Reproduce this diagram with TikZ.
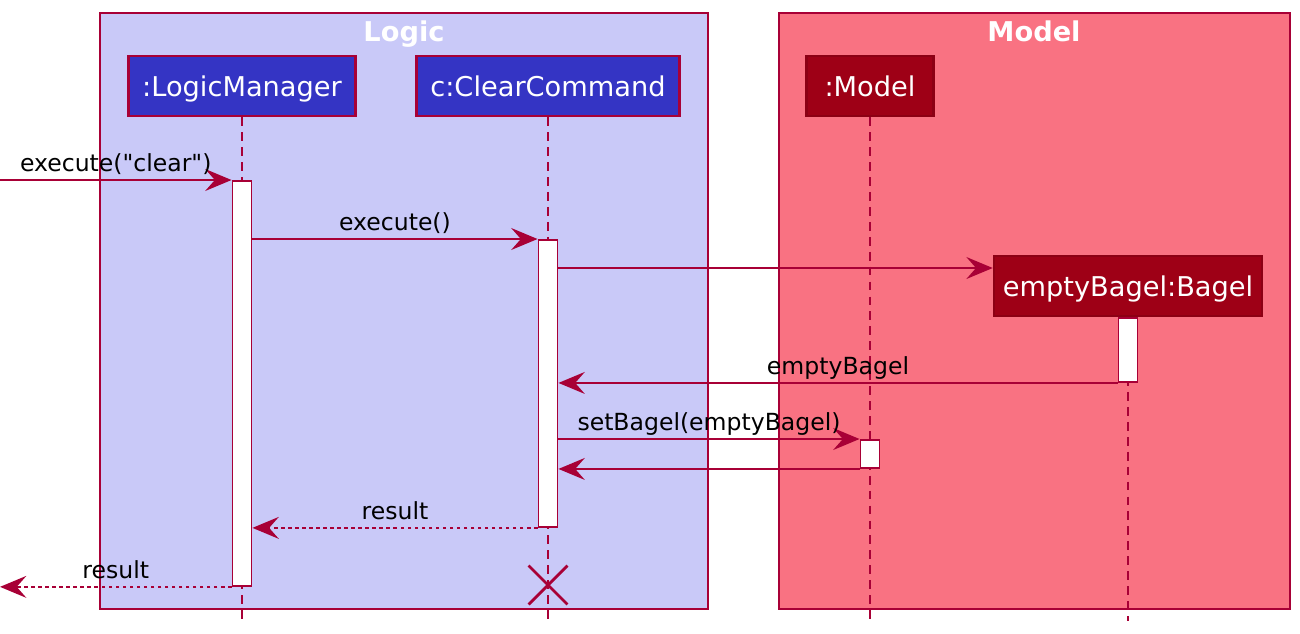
\documentclass[tikz,border=0pt]{standalone}
\usepackage{fontspec}
\newfontfamily\umlfont{DejaVu Sans}
\usepackage{tikz}
\usetikzlibrary{arrows.meta,shapes.misc}
\definecolor{umlline}{RGB}{168,0,54}
\definecolor{logicbg}{RGB}{201,201,248}
\definecolor{modelbg}{RGB}{249,114,130}
\definecolor{logicpart}{RGB}{52,52,196}
\definecolor{modelpart}{RGB}{158,0,22}
\definecolor{modeledge}{RGB}{140,0,20}

\begin{document}
\begin{tikzpicture}[x=0.02cm,y=-0.02cm]
  \tikzstyle{box}=[draw=umlline,line width=1.1pt]
  \tikzstyle{boxtitle}=[anchor=base,text=white,font=\umlfont\fontsize{15.5}{19}\selectfont\bfseries]
  \tikzstyle{participant}=[draw=umlline,line width=1.5pt,fill=logicpart,text=white,inner sep=0pt,
                           text height=14pt,text depth=1.6pt,
                           minimum height=1.2cm,font=\umlfont\fontsize{15.5}{18}\selectfont]
  \tikzstyle{modelparticipant}=[participant,draw=modeledge,fill=modelpart]
  \tikzstyle{life}=[draw=umlline,line width=0.9pt,dash pattern=on 5pt off 3.5pt]
  \tikzstyle{act}=[draw=umlline,line width=1.1pt,fill=white,minimum width=0.38cm,
                   anchor=north,inner sep=0pt]
  \tikzstyle{msg}=[draw=umlline,line width=0.9pt,-{Stealth[length=15pt,width=12.5pt,inset=5.5pt]}]
  \tikzstyle{ret}=[msg,dash pattern=on 2pt off 2pt]
  \tikzstyle{lbl}=[anchor=base,yshift=5pt,inner sep=0pt,font=\umlfont\fontsize{13.4}{16}\selectfont]
  \tikzstyle{destroy}=[draw=umlline,line width=1.6pt,cross out,minimum size=0.72cm,inner sep=0pt]
  \useasboundingbox (0,0) rectangle (1300,633);
  \draw[box,fill=logicbg] (100,13) rectangle (708,609);
  \draw[box,fill=modelbg] (779,13) rectangle (1290,609);
  \node[boxtitle] (logicTitle) at (404,41) {Logic};
  \node[boxtitle] (modelTitle) at (1034,41) {Model};
  \node[participant,minimum width=4.54cm] (lm) at (242,86) {:LogicManager};
  \node[participant,minimum width=5.26cm] (cc) at (548,86) {c:ClearCommand};
  \node[modelparticipant,minimum width=2.54cm] (mdl) at (870,86) {:Model};
  \draw[life] (lm.south) -- (242,621);
  \draw[life] (cc.south) -- (548,621);
  \draw[life] (mdl.south) -- (870,621);
  \node[modelparticipant,minimum width=5.36cm] (bagel) at (1128,286) {emptyBagel:Bagel};
  \draw[life] (bagel.south) -- (1128,621);
  \node[act,minimum height=8.1cm] (lmAct) at (242,180) {};
  \node[act,minimum height=5.74cm] (ccAct) at (548,239) {};
  \node[act,minimum height=1.28cm] (bagelAct) at (1128,317) {};
  \node[act,minimum height=0.56cm] (mdlAct) at (870,439) {};
  \coordinate (caller) at (0,180);
  \coordinate (back) at (0,585);
  \draw[msg] (caller) -- node[lbl] {execute("clear")} (lmAct.north west);
  \draw[msg] (lmAct.east |- ccAct.north) -- node[lbl] {execute()} (ccAct.north west);
  \draw[msg] (ccAct.east |- 0,268) -- (bagel.west |- 0,268);
  \draw[msg] (bagelAct.south west) -- node[lbl] {emptyBagel} (ccAct.east |- bagelAct.south);
  \draw[msg] (ccAct.east |- mdlAct.north) -- node[lbl] {setBagel(emptyBagel)} (mdlAct.north west);
  \draw[msg] (mdlAct.south west) -- (ccAct.east |- mdlAct.south);
  \draw[ret] (ccAct.south west) -- node[lbl] {result} (lmAct.east |- ccAct.south);
  \draw[ret] (lmAct.south west) -- node[lbl] {result} (back |- lmAct.south);
  \node[destroy] (ccEnd) at (548,585) {};
\end{tikzpicture}
\end{document}
